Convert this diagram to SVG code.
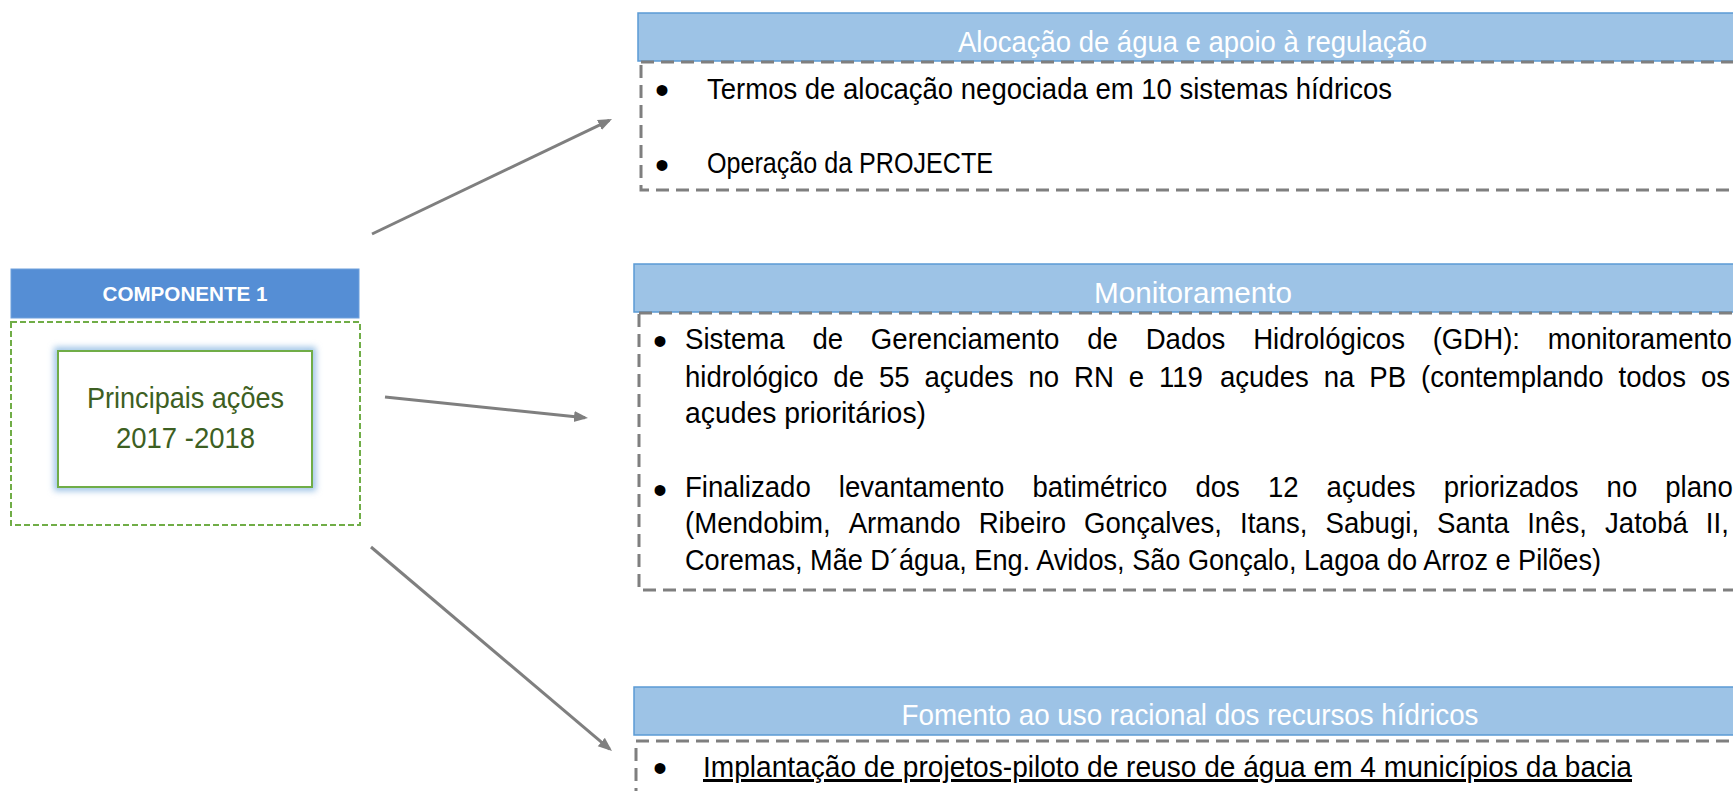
<svg xmlns="http://www.w3.org/2000/svg" width="1733" height="791" viewBox="0 0 1733 791">
  <style>
    .body { font-family: "Liberation Sans", Arial, sans-serif; font-size: 30px; fill: #000000; }
    .hdr { font-family: "Liberation Sans", Arial, sans-serif; font-size: 30px; fill: #ffffff; text-anchor: middle; }
    .bul { font-family: "Liberation Sans", Arial, sans-serif; font-size: 40px; fill: #000000; text-anchor: middle; }
    .hbox { fill: #9DC3E6; stroke: #5B9BD5; stroke-width: 1.5; }
    .dbox { fill: none; stroke: #7F7F7F; stroke-width: 3; stroke-dasharray: 13 7; }
    .conn { stroke: #7F7F7F; stroke-width: 3; fill: none; marker-end: url(#ah); }
    .green { font-family: "Liberation Sans", Arial, sans-serif; font-size: 29px; fill: #3D5F22; text-anchor: middle; }
  </style>
  <defs>
    <marker id="ah" markerUnits="userSpaceOnUse" markerWidth="15" markerHeight="12" refX="11" refY="6" orient="auto">
      <path d="M0,0.5 L14,6 L0,11.5 z" fill="#7F7F7F"/>
    </marker>
    <filter id="glow" x="-20%" y="-20%" width="140%" height="140%">
      <feGaussianBlur stdDeviation="3"/>
    </filter>
  </defs>
  <rect width="1733" height="791" fill="#ffffff"/>

  <g id="componente">
    <rect x="11" y="269" width="348" height="49" fill="#558ED5" stroke="#6FA0DC" stroke-width="1"/>
    <text x="185" y="301" font-family="Liberation Sans, Arial, sans-serif" font-size="21" font-weight="bold" fill="#ffffff" text-anchor="middle" textLength="165" lengthAdjust="spacingAndGlyphs">COMPONENTE 1</text>
    <rect x="11" y="322" width="349" height="203" fill="none" stroke="#70AD47" stroke-width="2" stroke-dasharray="6 3"/>
  </g>

  <g id="principais">
    <rect x="58" y="351" width="254" height="136" fill="none" stroke="#9DC3E6" stroke-width="8" filter="url(#glow)"/>
    <rect x="58" y="351" width="254" height="136" fill="#ffffff" stroke="#70AD47" stroke-width="2"/>
    <text class="green" x="185.5" y="408" textLength="197" lengthAdjust="spacingAndGlyphs">Principais ações</text>
    <text class="green" x="185.5" y="448" textLength="139" lengthAdjust="spacingAndGlyphs">2017 -2018</text>
  </g>

  <g id="alocacao">
    <rect class="hbox" x="638" y="13" width="1120" height="48"/>
    <text class="hdr" x="1192.5" y="52" textLength="469" lengthAdjust="spacingAndGlyphs">Alocação de água e apoio à regulação</text>
    <rect class="dbox" x="641" y="62" width="1120" height="128"/>
    <text class="bul" x="662" y="104">•</text>
    <text class="body" x="707" y="99" textLength="685" lengthAdjust="spacingAndGlyphs">Termos de alocação negociada em 10 sistemas hídricos</text>
    <text class="bul" x="662" y="179">•</text>
    <text class="body" x="707" y="173" textLength="286" lengthAdjust="spacingAndGlyphs">Operação da PROJECTE</text>
  </g>

  <g id="monitoramento">
    <rect class="hbox" x="634" y="264" width="1124" height="48"/>
    <text class="hdr" x="1193" y="303" textLength="198" lengthAdjust="spacingAndGlyphs">Monitoramento</text>
    <rect class="dbox" x="639" y="313" width="1120" height="277"/>
    <text class="bul" x="660" y="355">•</text>
    <text class="body" transform="translate(685,0) scale(0.92,1)" y="349"><tspan x="0">Sistema</tspan> <tspan x="138.5">de</tspan> <tspan x="202">Gerenciamento</tspan> <tspan x="437.2">de</tspan> <tspan x="500.7">Dados</tspan> <tspan x="617.6">Hidrológicos</tspan> <tspan x="812.7">(GDH):</tspan> <tspan x="937.9">monitoramento</tspan></text>
    <text class="body" transform="translate(685,0) scale(0.92,1)" y="387"><tspan x="0">hidrológico</tspan> <tspan x="161.2">de</tspan> <tspan x="210.8">55</tspan> <tspan x="260.3">açudes</tspan> <tspan x="373.3">no</tspan> <tspan x="422.8">RN</tspan> <tspan x="482.3">e</tspan> <tspan x="515.2">119</tspan> <tspan x="581.4">açudes</tspan> <tspan x="694.3">na</tspan> <tspan x="743.9">PB</tspan> <tspan x="800.1">(contemplando</tspan> <tspan x="1014.7">todos</tspan> <tspan x="1104.3">os</tspan></text>
    <text class="body" x="685" y="423" textLength="241" lengthAdjust="spacingAndGlyphs">açudes prioritários)</text>
    <text class="bul" x="660" y="504">•</text>
    <text class="body" transform="translate(685,0) scale(0.92,1)" y="497"><tspan x="0">Finalizado</tspan> <tspan x="167.2">levantamento</tspan> <tspan x="377.7">batimétrico</tspan> <tspan x="554.8">dos</tspan> <tspan x="633.6">12</tspan> <tspan x="697.4">açudes</tspan> <tspan x="824.6">priorizados</tspan> <tspan x="1001.7">no</tspan> <tspan x="1065.5">plano</tspan></text>
    <text class="body" transform="translate(685,0) scale(0.92,1)" y="533"><tspan x="0">(Mendobim,</tspan> <tspan x="177.9">Armando</tspan> <tspan x="319.2">Ribeiro</tspan> <tspan x="433.7">Gonçalves,</tspan> <tspan x="603.3">Itans,</tspan> <tspan x="696.2">Sabugi,</tspan> <tspan x="817.5">Santa</tspan> <tspan x="915.4">Inês,</tspan> <tspan x="1000">Jatobá</tspan> <tspan x="1109.6">II,</tspan></text>
    <text class="body" x="685" y="570" textLength="916" lengthAdjust="spacingAndGlyphs">Coremas, Mãe D´água, Eng. Avidos, São Gonçalo, Lagoa do Arroz e Pilões)</text>
  </g>

  <g id="fomento">
    <rect class="hbox" x="634" y="687" width="1124" height="48"/>
    <text class="hdr" x="1190" y="725" textLength="577" lengthAdjust="spacingAndGlyphs">Fomento ao uso racional dos recursos hídricos</text>
    <rect class="dbox" x="636" y="741" width="1120" height="100"/>
    <text class="bul" x="660" y="782">•</text>
    <text class="body" x="703" y="777" text-decoration="underline" textLength="929" lengthAdjust="spacingAndGlyphs">Implantação de projetos-piloto de reuso de água em 4 municípios da bacia</text>
  </g>

  <g id="connectors">
    <line class="conn" x1="372" y1="234" x2="609.3" y2="120.3"/>
    <line class="conn" x1="385" y1="397" x2="585" y2="417.7"/>
    <line class="conn" x1="371" y1="547" x2="609.7" y2="749.1"/>
  </g>
</svg>
